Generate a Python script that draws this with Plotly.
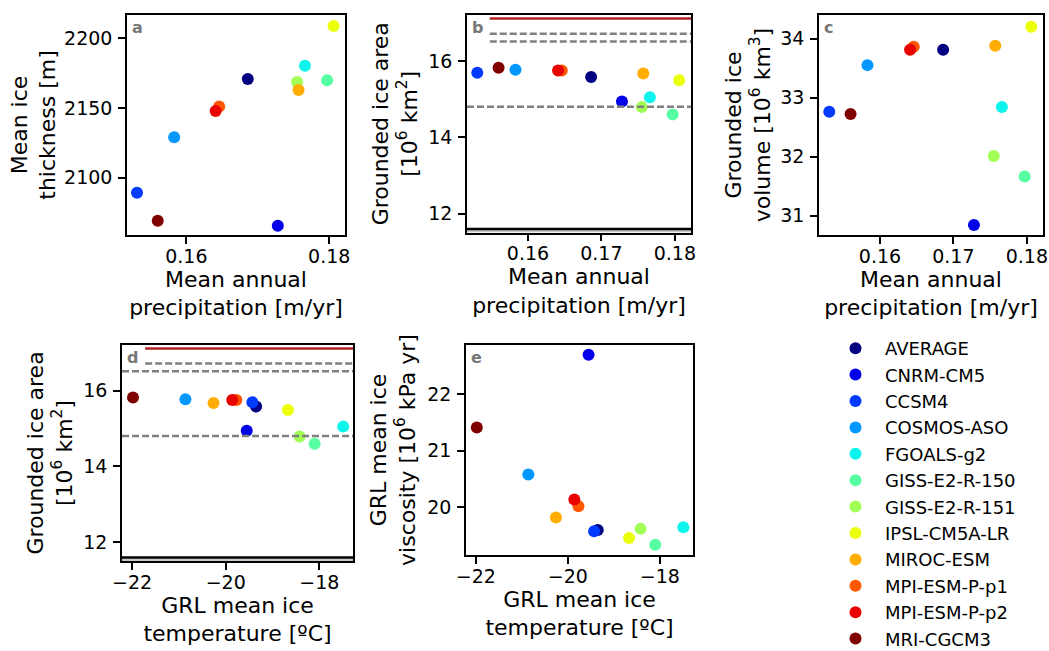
import plotly.graph_objects as go

# model names, in plotting order
models = [
    "AVERAGE", "CNRM-CM5", "CCSM4", "COSMOS-ASO", "FGOALS-g2", "GISS-E2-R-150",
    "GISS-E2-R-151", "IPSL-CM5A-LR", "MIROC-ESM", "MPI-ESM-P-p1", "MPI-ESM-P-p2", "MRI-CGCM3",
]
# jet colormap sampled at 12 steps
colors = [
    "#000080", "#0000e9", "#003aff", "#0097ff", "#0cf4eb", "#56ffa1",
    "#a1ff56", "#ebff0c", "#ffad00", "#ff5700", "#e90100", "#800000",
]

precip = [0.1686, 0.1728, 0.1531, 0.1583, 0.1766, 0.1797, 0.1755, 0.1806, 0.1757, 0.1646, 0.1641, 0.1560]
thickness = [2170.8, 2065.6, 2089.2, 2129.0, 2180.3, 2169.9, 2168.6, 2208.8, 2162.9, 2151.0, 2147.8, 2069.2]
area = [15.58, 14.94, 15.69, 15.77, 15.05, 14.60, 14.79, 15.49, 15.67, 15.75, 15.75, 15.82]
volume = [33.81, 30.84, 32.76, 33.55, 32.84, 31.66, 32.01, 34.20, 33.88, 33.86, 33.81, 32.72]
temperature = [-19.35, -19.55, -19.43, -20.86, -17.49, -18.10, -18.42, -18.67, -20.26, -19.77, -19.86, -21.98]
viscosity = [19.60, 22.69, 19.58, 20.58, 19.65, 19.34, 19.62, 19.46, 19.82, 20.02, 20.14, 21.41]

# reference levels of grounded ice area [10^6 km^2]
ref_red = 17.11
ref_dashed = [16.71, 16.51, 14.80]
ref_black = 11.60
ref_light = 11.545
# where the upper reference lines start (panel b: precip, panel d: temperature)
line_start_b = 0.1548
line_start_d = -21.72

FONT = "DejaVu Sans"
W, H = 1049, 651


def dom_x(l, r):
    return [l / W, r / W]


def dom_y(top, bottom):
    return [1 - bottom / H, 1 - top / H]


P_TITLE = "Mean annual<br>precipitation [m/yr]"
T_TITLE = "GRL mean ice<br>temperature [ºC]"
P_RANGE = [0.1517, 0.1822]
T_RANGE = [-22.215, -17.28]
AREA_RANGE = [11.51, 17.2]

# (xaxis, yaxis, x, y, xdomain, ydomain, xrange, yrange, xtitle, ytitle, dtick x, dtick y, letter, y-title standoff)
panels = [
    ("x", "y", precip, thickness, dom_x(127, 345), dom_y(15, 235), P_RANGE, [2058.9, 2216.7],
     P_TITLE, "Mean ice<br>thickness [m]", 0.02, 50, "a", 2),
    ("x2", "y2", precip, area, dom_x(467, 691), dom_y(15, 232.5), P_RANGE, AREA_RANGE,
     P_TITLE, "Grounded ice area<br>[10<sup>6</sup> km<sup>2</sup>]", 0.01, 2, "b", 5),
    ("x3", "y3", precip, volume, dom_x(819, 1043), dom_y(15, 235), P_RANGE, [30.67, 34.40],
     P_TITLE, "Grounded ice<br>volume [10<sup>6</sup> km<sup>3</sup>]", 0.01, 1, "c", 4),
    ("x4", "y4", temperature, area, dom_x(122, 353), dom_y(345, 561), T_RANGE, AREA_RANGE,
     T_TITLE, "Grounded ice area<br>[10<sup>6</sup> km<sup>2</sup>]", 2, 2, "d", 5),
    ("x5", "y5", temperature, viscosity, dom_x(466, 693), dom_y(345, 555), T_RANGE, [19.159, 22.864],
     T_TITLE, "GRL mean ice<br>viscosity [10<sup>6</sup> kPa yr]", 2, 1, "e", 6),
]

fig = go.Figure()
layout = dict(
    width=W, height=H,
    margin=dict(l=0, r=0, t=0, b=0, autoexpand=False),
    plot_bgcolor="white", paper_bgcolor="white",
    font=dict(family=FONT, size=18, color="black"),
    showlegend=True,
    legend=dict(x=826 / W, y=1 - 330 / H, xanchor="left", yanchor="top",
                font=dict(size=18), bgcolor="rgba(0,0,0,0)", tracegroupgap=0,
                itemsizing="constant", itemwidth=49),
)

axis_common = dict(
    showline=True, linecolor="black", linewidth=1.5, mirror=True,
    ticks="outside", ticklen=7, tickwidth=1.5, tickcolor="black",
    showgrid=False, zeroline=False, automargin=False,
    ticklabeloverflow="allow",
    tickfont=dict(size=19), title_font=dict(size=22),
)

annotations = []
shapes = []
for i, (xa, ya, xs, ys, xd, yd, xr, yr, xt, yt, dx, dy, letter, ystand) in enumerate(panels):
    for j, name in enumerate(models):
        fig.add_trace(go.Scatter(
            x=[xs[j]], y=[ys[j]], mode="markers", name=name,
            marker=dict(color=colors[j], size=12),
            xaxis=xa, yaxis=ya, legendgroup=name, showlegend=(i == 0),
        ))
    xkey = "xaxis" if xa == "x" else "xaxis" + xa[1:]
    ykey = "yaxis" if ya == "y" else "yaxis" + ya[1:]
    layout[xkey] = dict(domain=xd, range=xr, anchor=ya, dtick=dx, tick0=0, ticklabelstandoff=-4,
                        title=dict(text=xt, standoff=0), **axis_common)
    layout[ykey] = dict(domain=yd, range=yr, anchor=xa, dtick=dy, tick0=0, ticklabelstandoff=2,
                        title=dict(text=yt, standoff=ystand), **axis_common)
    annotations.append(dict(
        text=f"<b>{letter}</b>", x=0, y=1, xref=f"{xa} domain", yref=f"{ya} domain",
        xanchor="left", yanchor="top", xshift=3, yshift=-1, showarrow=False,
        font=dict(size=16, color="#777777"),
    ))

# reference lines for the grounded-area panels
for xa, ya, start, (left, right) in [("x2", "y2", line_start_b, P_RANGE), ("x4", "y4", line_start_d, T_RANGE)]:
    shapes.append(dict(type="line", xref=xa, yref=ya, x0=start, x1=right, y0=ref_red, y1=ref_red,
                       line=dict(color="#b22222", width=2.5)))
    for k, lvl in enumerate(ref_dashed):
        x0 = start
        if k == 2 or (k == 1 and xa == "x4"):
            x0 = left
        shapes.append(dict(type="line", xref=xa, yref=ya, x0=x0, x1=right, y0=lvl, y1=lvl,
                           line=dict(color="gray", width=2.5, dash="7px,3px")))
    shapes.append(dict(type="line", xref=xa, yref=ya, x0=left, x1=right, y0=ref_light, y1=ref_light,
                       line=dict(color="#c8c8c8", width=2.5)))
    shapes.append(dict(type="line", xref=xa, yref=ya, x0=left, x1=right, y0=ref_black, y1=ref_black,
                       line=dict(color="black", width=2.5)))

layout["annotations"] = annotations
layout["shapes"] = shapes
fig.update_layout(**layout)
# drop the page's default body margin so the figure sits at the window's corner
fig.write_html("out.html", config={"displayModeBar": False},
               post_script="document.body.style.margin='0';")
